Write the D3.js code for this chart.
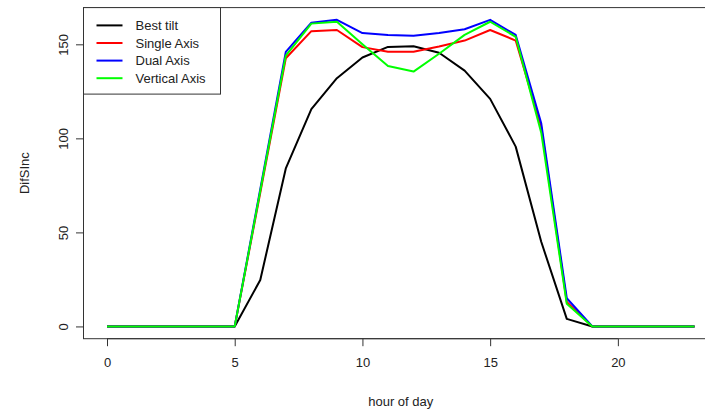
<!DOCTYPE html>
<html>
<head>
<meta charset="utf-8">
<script src="https://cdn.jsdelivr.net/npm/d3@7"></script>
<style>
  body { margin: 0; background: #fff; }
  svg { display: block; font-family: "Liberation Sans", Arial, sans-serif; }
</style>
</head>
<body>
<div id="chart"></div>
<script>
// Data
const hours = d3.range(0, 24);
const bestTilt   = [0, 0, 0, 0, 0, 0, 24.7, 84, 115.5, 132, 143, 148.6, 149, 145.5, 136, 121, 95.6, 45, 4, 0, 0, 0, 0, 0];
const singleAxis = [0, 0, 0, 0, 0, 0, 71, 142.6, 157, 157.6, 148.5, 146, 146, 148.8, 152, 157.6, 152, 106, 13, 0, 0, 0, 0, 0];
const dualAxis   = [0, 0, 0, 0, 0, 0, 73, 146, 161.5, 163, 156, 155, 154.6, 156, 158, 163, 155, 108, 15, 0, 0, 0, 0, 0];
const vertAxis   = [0, 0, 0, 0, 0, 0, 72, 144, 161, 162, 150, 138.5, 135.5, 145, 155, 162, 154, 103, 12, 0, 0, 0, 0, 0];

const seriesNames = ["Best tilt", "Single Axis", "Dual Axis", "Vertical Axis"];
const seriesColors = ["#000000", "#ff0000", "#0000ff", "#00ff00"];
const seriesValues = [bestTilt, singleAxis, dualAxis, vertAxis];

const xTicks = [0, 5, 10, 15, 20];
const yTicks = [0, 50, 100, 150];

const width = 705, height = 410;
const plot = { left: 83.5, right: 718, top: 7.6, bottom: 338.7 };

const svg = d3.select("#chart").append("svg")
    .attr("width", width)
    .attr("height", height);

// R style 4% axis extension
const xExt = d3.extent(hours);
const xPad = (xExt[1] - xExt[0]) * 0.04;
const yMax = d3.max(seriesValues, s => d3.max(s));
const yPad = yMax * 0.04;

const x = d3.scaleLinear()
    .domain([xExt[0] - xPad, xExt[1] + xPad])
    .range([plot.left, plot.right]);

const y = d3.scaleLinear()
    .domain([0 - yPad, yMax + yPad])
    .range([plot.bottom, plot.top]);

// Lines
const line = d3.line()
    .x((d, i) => x(hours[i]))
    .y(d => y(d));

seriesValues.forEach((vals, k) => {
    svg.append("path")
        .datum(vals)
        .attr("d", line)
        .attr("fill", "none")
        .attr("stroke", seriesColors[k])
        .attr("stroke-width", 2)
        .attr("stroke-linejoin", "round");
});

// Box
svg.append("rect")
    .attr("x", plot.left)
    .attr("y", plot.top)
    .attr("width", plot.right - plot.left)
    .attr("height", plot.bottom - plot.top)
    .attr("fill", "none")
    .attr("stroke", "#333")
    .attr("stroke-width", 1);

// Axes
const xAxis = d3.axisBottom(x).tickValues(xTicks).tickSize(7.5).tickPadding(12);
const gx = svg.append("g")
    .attr("transform", `translate(0,${plot.bottom})`)
    .call(xAxis);
gx.select(".domain")
    .attr("d", `M${x(xTicks[0])},0H${x(xTicks[xTicks.length - 1])}`)
    .attr("stroke", "#333");
gx.selectAll(".tick line").attr("stroke", "#333");
gx.selectAll(".tick text")
    .style("font-size", "13px")
    .style("font-family", "Liberation Sans, Arial, sans-serif")
    .attr("fill", "#222");

const yAxis = d3.axisLeft(y).tickValues(yTicks).tickSize(7.5).tickPadding(0);
const gy = svg.append("g")
    .attr("transform", `translate(${plot.left},0)`)
    .call(yAxis);
gy.select(".domain")
    .attr("d", `M0,${y(yTicks[0])}V${y(yTicks[yTicks.length - 1])}`)
    .attr("stroke", "#333");
gy.selectAll(".tick line").attr("stroke", "#333");
gy.selectAll(".tick text")
    .style("font-size", "13px")
    .style("font-family", "Liberation Sans, Arial, sans-serif")
    .attr("fill", "#222")
    .attr("x", null)
    .attr("dy", null)
    .attr("text-anchor", "middle")
    .attr("transform", "translate(-20,0) rotate(-90)")
    .attr("dominant-baseline", "central");

// Axis titles
svg.append("text")
    .attr("x", (plot.left + plot.right) / 2)
    .attr("y", 406)
    .attr("text-anchor", "middle")
    .style("font-size", "13px")
    .attr("fill", "#222")
    .text("hour of day");

svg.append("text")
    .attr("transform", `translate(29,${(plot.top + plot.bottom) / 2}) rotate(-90)`)
    .attr("text-anchor", "middle")
    .style("font-size", "13px")
    .attr("fill", "#222")
    .text("DifSInc");

// Legend
const legend = svg.append("g")
    .attr("transform", `translate(${plot.left},${plot.top})`);

legend.append("rect")
    .attr("width", 137)
    .attr("height", 86.5)
    .attr("fill", "#fff")
    .attr("stroke", "#333")
    .attr("stroke-width", 1);

const items = legend.selectAll(".legend-item")
    .data(seriesNames)
    .join("g")
    .attr("class", "legend-item")
    .attr("transform", (d, i) => `translate(0,${17.8 + i * 17.6})`);

items.append("line")
    .attr("x1", 13)
    .attr("x2", 39)
    .attr("stroke", (d, i) => seriesColors[i])
    .attr("stroke-width", 2);

items.append("text")
    .attr("x", 52)
    .attr("dy", "0.35em")
    .style("font-size", "13px")
    .attr("fill", "#222")
    .text(d => d);
</script>
</body>
</html>
